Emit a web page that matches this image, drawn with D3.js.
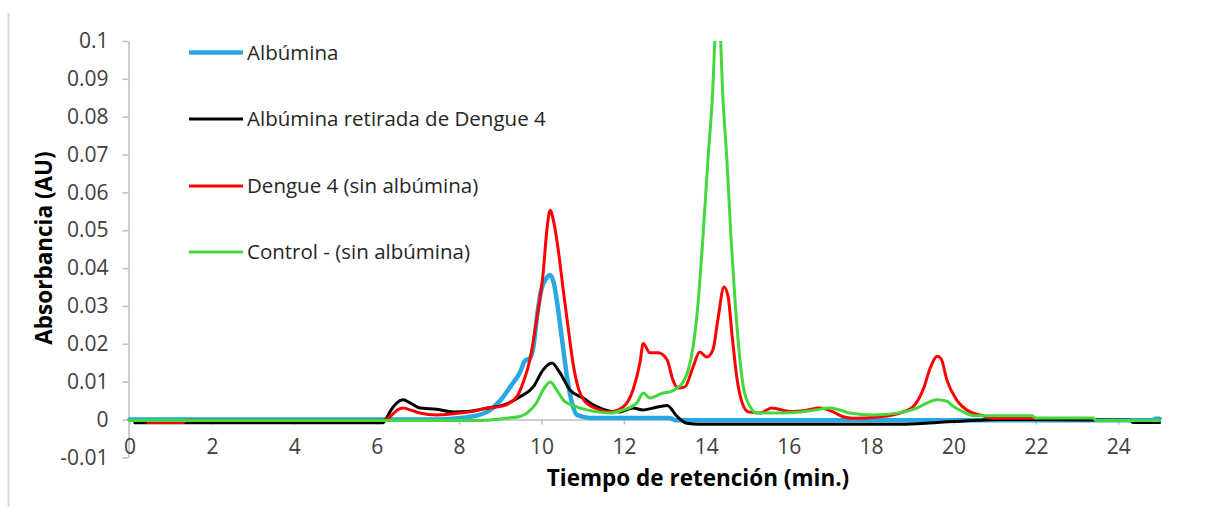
<!DOCTYPE html>
<html>
<head>
<meta charset="utf-8">
<script src="https://cdn.jsdelivr.net/npm/d3@7"></script>
<style>
  body { margin: 0; background: #fff; }
  svg { display: block; font-family: "Open Sans", Lato, sans-serif; }
</style>
</head>
<body>
<svg id="chart"></svg>
<script>
// series: [time (min), absorbance (AU)]
var albumina = [[0,0],[7.5,0],[7.86,0.0002],[8.26,0.0007],[8.68,0.002],[9.0,0.005],[9.24,0.0086],[9.48,0.0125],
    [9.6,0.0155],[9.72,0.0162],[9.8,0.019],[9.9,0.028],[10.0,0.0345],[10.1,0.037],[10.21,0.0382],[10.3,0.036],
    [10.37,0.0316],[10.5,0.021],[10.62,0.0112],[10.74,0.0044],[10.86,0.0012],[11.18,0.0004],[13.1,0.0004],
    [13.25,-0.0002],[24.85,-0.0002],[24.9,0.0002],[25,0.0002]];

var retirada = [[0.13,-0.0009],[6.15,-0.0009],[6.22,0],[6.32,0.002],[6.49,0.0044],[6.64,0.0052],[6.81,0.0044],
    [7.05,0.003],[7.46,0.0027],[7.86,0.002],[8.26,0.0022],[8.68,0.003],[9.07,0.0038],[9.48,0.006],[9.8,0.0086],
    [10.04,0.0131],[10.25,0.0149],[10.45,0.0123],[10.69,0.0078],[11.0,0.0057],[11.35,0.0033],[11.66,0.0022],
    [11.9,0.002],[12.22,0.003],[12.47,0.0025],[12.7,0.003],[13.05,0.0037],[13.29,0.0008],[13.53,-0.001],
    [13.84,-0.0013],[18.7,-0.0013],[19.6,-0.0008],[20.6,-0.0002],[21.1,0],[24.3,-0.0002],[24.35,-0.0008],[25,-0.0008]];

var dengue = [[0.45,-0.0008],[1.3,-0.0008],[1.4,-0.0002],[6.15,-0.0002],[6.32,0.0007],[6.5,0.0025],[6.64,0.003],
    [6.85,0.0024],[7.05,0.0017],[7.46,0.0012],[7.86,0.0015],[8.26,0.002],[8.68,0.003],[9.07,0.0036],[9.4,0.006],
    [9.55,0.0096],[9.72,0.0158],[9.88,0.0263],[10.04,0.0387],[10.13,0.05],[10.21,0.0553],[10.3,0.052],
    [10.41,0.0445],[10.53,0.034],[10.65,0.024],[10.77,0.0145],[10.9,0.008],[11.05,0.0048],[11.35,0.0028],
    [11.66,0.002],[11.98,0.0033],[12.22,0.0078],[12.39,0.015],[12.47,0.0201],[12.63,0.0176],[12.83,0.0176],
    [13.05,0.0157],[13.19,0.0104],[13.31,0.0083],[13.48,0.0086],[13.68,0.0139],[13.84,0.0178],[14.01,0.0165],
    [14.16,0.0184],[14.28,0.0263],[14.43,0.035],[14.53,0.0324],[14.63,0.0218],[14.75,0.0104],[14.87,0.0044],
    [15.02,0.002],[15.3,0.0017],[15.59,0.003],[16.03,0.0021],[16.4,0.0024],[16.76,0.003],[17.08,0.002],
    [17.32,0.0007],[17.56,0.0003],[18.21,0.0007],[18.7,0.0017],[19.02,0.0034],[19.26,0.0078],[19.45,0.014],
    [19.6,0.0167],[19.7,0.016],[19.84,0.0104],[20.08,0.0051],[20.4,0.002],[20.64,0.0012],[20.96,0.0003],[22,0.0003]];

var control = [[0,-0.0003],[8.5,-0.0003],[8.9,0],[9.2,0.0004],[9.48,0.0008],[9.65,0.0017],[9.88,0.0044],
    [10.04,0.0078],[10.21,0.0099],[10.37,0.0078],[10.53,0.0051],[10.86,0.0033],[11.35,0.002],[11.66,0.0017],
    [11.98,0.0025],[12.31,0.0043],[12.47,0.007],[12.63,0.0057],[12.95,0.007],[13.12,0.0073],[13.29,0.0083],
    [13.44,0.0099],[13.56,0.013],[13.68,0.0192],[13.8,0.0307],[13.92,0.0484],[14.04,0.0686],[14.14,0.0836],
    [14.28,0.113],[14.41,0.0836],[14.5,0.0686],[14.6,0.048],[14.7,0.031],[14.8,0.0176],[14.9,0.0086],
    [15.07,0.0033],[15.23,0.0017],[16.03,0.0018],[16.59,0.0024],[17.0,0.003],[17.24,0.0025],[17.48,0.0017],
    [18.05,0.0012],[18.7,0.0018],[19.11,0.003],[19.36,0.0044],[19.6,0.0052],[19.84,0.0048],[20.0,0.0034],
    [20.24,0.002],[20.48,0.001],[21.9,0.001],[22.0,0.0004],[23.4,0.0004],[23.45,-0.0003],[25,-0.0003]];

var seriesNames = ["Albúmina", "Albúmina retirada de Dengue 4", "Dengue 4 (sin albúmina)", "Control - (sin albúmina)"];
var xTicks = [0, 2, 4, 6, 8, 10, 12, 14, 16, 18, 20, 22, 24];
var yTicks = [-0.01, 0, 0.01, 0.02, 0.03, 0.04, 0.05, 0.06, 0.07, 0.08, 0.09, 0.1];

var colors = ["#27a8e0", "#000000", "#ff0000", "#44d83c"];
var widths = [4.5, 3, 3, 3];

var W = 1207, H = 507;
var svg = d3.select("#chart").attr("width", W).attr("height", H);

// chart frame edge on the left
svg.append("line")
    .attr("x1", 8.5).attr("x2", 8.5).attr("y1", 13).attr("y2", H)
    .attr("stroke", "#d9d9d9").attr("stroke-width", 2);

var x = d3.scaleLinear().domain([0, 25]).range([129.5, 1159.5]);
var y = d3.scaleLinear().domain([-0.01, 0.1]).range([457.3, 41]);

var fmt = function(d) { return String(+d.toFixed(2)); };

// y axis
var yAxis = svg.append("g")
    .attr("transform", "translate(" + 128.5 + ",0)")
    .call(d3.axisLeft(y).tickValues(yTicks).tickFormat(fmt).tickSize(6).tickPadding(14).tickSizeOuter(0));
yAxis.select(".domain").attr("stroke", "#bfbfbf").attr("stroke-width", 1.5);
yAxis.selectAll(".tick line").attr("stroke", "#bfbfbf").attr("stroke-width", 1.5);
yAxis.selectAll("text").attr("font-size", 21).attr("fill", "#404040")
    .attr("font-family", "'Open Sans', Lato, sans-serif");

// x axis drawn at zero
var xAxis = svg.append("g")
    .attr("transform", "translate(0," + y(0) + ")")
    .call(d3.axisBottom(x).tickValues(xTicks).tickFormat(fmt).tickSize(5).tickPadding(15).tickSizeOuter(0));
xAxis.select(".domain").attr("stroke", "#bfbfbf").attr("stroke-width", 1.5);
xAxis.selectAll(".tick line").attr("stroke", "#bfbfbf").attr("stroke-width", 1.5);
xAxis.selectAll("text").attr("font-size", 21).attr("fill", "#404040")
    .attr("font-family", "'Open Sans', Lato, sans-serif");

// clip so the control peak is cut at 0.1
svg.append("defs").append("clipPath").attr("id", "plotclip")
    .append("rect")
    .attr("x", x(0) - 5).attr("y", y(0.1))
    .attr("width", x(25) - x(0) + 10).attr("height", y(-0.01) - y(0.1));

var line = d3.line()
    .x(function(d) { return x(d[0]); })
    .y(function(d) { return y(d[1]); })
    .curve(d3.curveMonotoneX);

var allSeries = [albumina, retirada, dengue, control];

svg.append("g").attr("clip-path", "url(#plotclip)")
    .selectAll("path")
    .data(allSeries)
    .enter().append("path")
    .attr("d", line)
    .attr("fill", "none")
    .attr("stroke", function(d, i) { return colors[i]; })
    .attr("stroke-width", function(d, i) { return widths[i]; })
    .attr("stroke-linejoin", "round")
    .attr("stroke-linecap", "round");

// legend
var legendRows = [52.5, 119, 186, 252];
var legend = svg.append("g").selectAll("g")
    .data(seriesNames)
    .enter().append("g")
    .attr("transform", function(d, i) { return "translate(189," + legendRows[i] + ")"; });

legend.append("line")
    .attr("x1", 0).attr("x2", 54)
    .attr("stroke", function(d, i) { return colors[i]; })
    .attr("stroke-width", function(d, i) { return widths[i]; });

legend.append("text")
    .attr("x", 58).attr("dy", "0.35em")
    .attr("font-size", 20.5).attr("fill", "#262626")
    .text(function(d) { return d; });

// axis titles
svg.append("text")
    .attr("transform", "translate(44,248) rotate(-90)")
    .attr("text-anchor", "middle").attr("dy", "0.35em")
    .attr("font-size", 22.5).attr("font-weight", "bold").attr("fill", "#000")
    .text("Absorbancia (AU)");

svg.append("text")
    .attr("x", 698).attr("y", 478)
    .attr("text-anchor", "middle").attr("dy", "0.35em")
    .attr("font-size", 22.5).attr("font-weight", "bold").attr("fill", "#000")
    .text("Tiempo de retención (min.)");
</script>
</body>
</html>
